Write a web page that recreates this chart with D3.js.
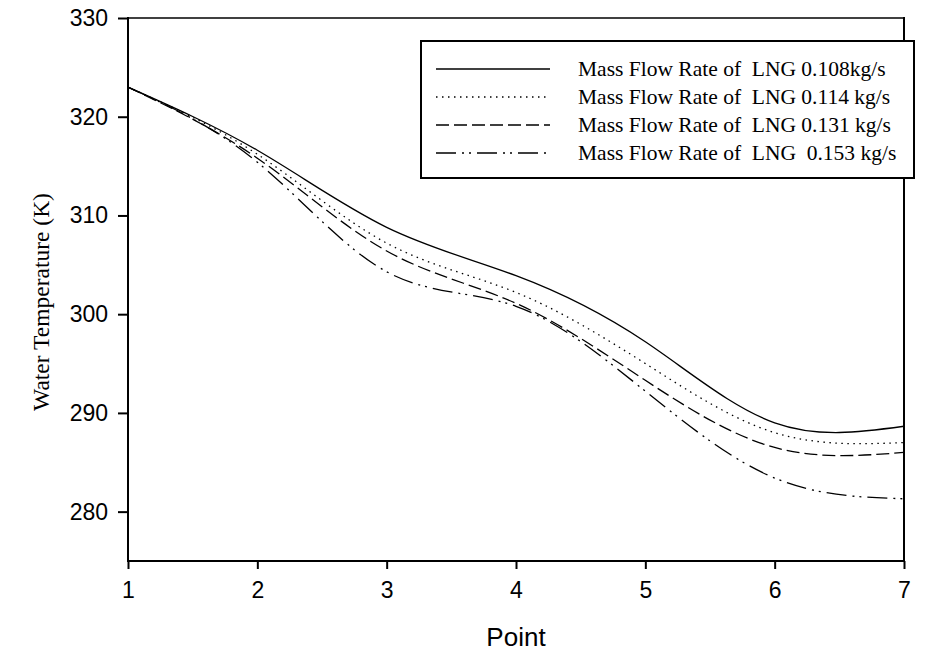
<!DOCTYPE html>
<html>
<head>
<meta charset="utf-8">
<script src="https://cdn.jsdelivr.net/npm/d3@7"></script>
<style>
  html, body { margin: 0; padding: 0; background: #fff; }
  svg { display: block; }
</style>
</head>
<body>
<svg id="chart" width="939" height="660"></svg>
<script>
// ---- data ----
const points = [1, 2, 3, 4, 5, 6, 7];
const seriesLabels = [
  "Mass Flow Rate of  LNG 0.108kg/s",
  "Mass Flow Rate of  LNG 0.114 kg/s",
  "Mass Flow Rate of  LNG 0.131 kg/s",
  "Mass Flow Rate of  LNG  0.153 kg/s"
];
const flow0108 = [323.0, 316.6, 308.8, 303.9, 297.2, 289.0, 288.65];
const flow0114 = [323.0, 316.2, 307.2, 302.2, 295.0, 288.0, 287.0];
const flow0131 = [323.0, 315.8, 306.4, 301.1, 293.3, 286.5, 286.0];
const flow0153 = [323.0, 315.4, 304.3, 300.8, 292.2, 283.4, 281.3];
const yTicks = [280, 290, 300, 310, 320, 330];
const xTicks = [1, 2, 3, 4, 5, 6, 7];
const xTitle = "Point";
const yTitle = "Water Temperature (K)";

const seriesValues = [flow0108, flow0114, flow0131, flow0153];
const dashes = [null, "1.5,4.5", "13,5", "20,6,2,5,2,6"];

// ---- layout ----
const L = 128, R = 904, T = 18, B = 561;
const svg = d3.select("#chart");

const x = d3.scaleLinear().domain([1, 7]).range([L, R]);
const y = d3.scaleLinear().domain([275, 330]).range([B, T]);

// lines
const line = d3.line()
  .x((d, i) => x(points[i]))
  .y(d => y(d))
  .curve(d3.curveNatural);

seriesValues.forEach((vals, i) => {
  svg.append("path")
    .attr("d", line(vals))
    .attr("fill", "none")
    .attr("stroke", "#000")
    .attr("stroke-width", 1.3)
    .attr("stroke-dasharray", dashes[i]);
});

// axes
const yAxis = d3.axisLeft(y).tickValues(yTicks).tickFormat(d3.format("d"))
  .tickSize(10).tickPadding(10).tickSizeOuter(0);
const gy = svg.append("g").attr("transform", `translate(${L},0)`).call(yAxis);
gy.select(".domain").remove();
gy.selectAll(".tick line").attr("stroke-width", 2);
gy.selectAll(".tick text")
  .attr("font-family", "'Liberation Sans', Arial, sans-serif")
  .attr("font-size", 23).attr("fill", "#000");

const xAxis = d3.axisBottom(x).tickValues(xTicks).tickFormat(d3.format("d"))
  .tickSize(8).tickPadding(13).tickSizeOuter(0);
const gx = svg.append("g").attr("transform", `translate(0,${B})`).call(xAxis);
gx.select(".domain").remove();
gx.selectAll(".tick line").attr("stroke-width", 2);
gx.selectAll(".tick text")
  .attr("font-family", "'Liberation Sans', Arial, sans-serif")
  .attr("font-size", 23).attr("fill", "#000");

// frame
svg.append("line").attr("x1", L).attr("x2", R).attr("y1", T).attr("y2", T)
  .attr("stroke", "#000").attr("stroke-width", 1.5);
svg.append("line").attr("x1", L).attr("x2", R).attr("y1", B).attr("y2", B)
  .attr("stroke", "#000").attr("stroke-width", 2);
svg.append("line").attr("x1", L).attr("x2", L).attr("y1", T - 1).attr("y2", B + 1)
  .attr("stroke", "#000").attr("stroke-width", 2);
svg.append("line").attr("x1", R).attr("x2", R).attr("y1", T - 1).attr("y2", B + 1)
  .attr("stroke", "#000").attr("stroke-width", 2);

// titles
svg.append("text")
  .attr("x", (L + R) / 2).attr("y", 646)
  .attr("text-anchor", "middle")
  .attr("font-family", "'Liberation Sans', Arial, sans-serif")
  .attr("font-size", 26)
  .text(xTitle);

svg.append("text")
  .attr("transform", "translate(49,302) rotate(-90)")
  .attr("text-anchor", "middle")
  .attr("font-family", "'Liberation Serif', 'Times New Roman', serif")
  .attr("font-size", 23.5)
  .text(yTitle);

// legend
const lg = svg.append("g");
lg.append("rect")
  .attr("x", 421).attr("y", 41).attr("width", 493).attr("height", 137)
  .attr("fill", "#fff").attr("stroke", "#000").attr("stroke-width", 2);
seriesLabels.forEach((lab, i) => {
  const base = 76 + i * 28;
  lg.append("line")
    .attr("x1", 436).attr("x2", 550)
    .attr("y1", base - 7).attr("y2", base - 7)
    .attr("stroke", "#000").attr("stroke-width", 1.5)
    .attr("stroke-dasharray", dashes[i]);
  lg.append("text")
    .attr("x", 578).attr("y", base)
    .attr("xml:space", "preserve")
    .style("white-space", "pre")
    .attr("font-family", "'Liberation Serif', 'Times New Roman', serif")
    .attr("font-size", 21.5)
    .text(lab);
});
</script>
</body>
</html>
